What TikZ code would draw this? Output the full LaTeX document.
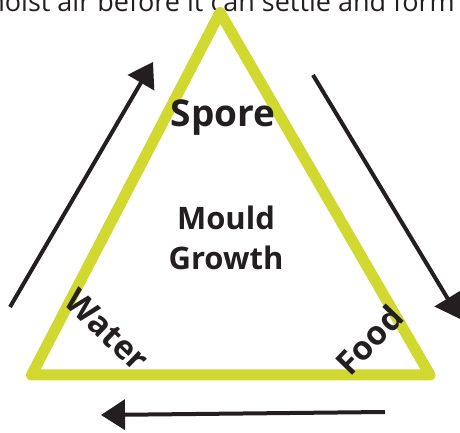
\documentclass[tikz,border=0pt]{standalone}
\usepackage{fontspec}
\setmainfont{Open Sans}
\usepackage{xcolor}
\usetikzlibrary{arrows.meta}

\definecolor{lime}{HTML}{D1D82F}
\definecolor{ink}{HTML}{231F20}

\begin{document}
\begin{tikzpicture}[x=1pt, y=1pt,
        side/.style={draw=lime, line width=11pt, line join=round},
        flow/.style={draw=ink, line width=4pt, -{Triangle[length=24pt, width=30pt]}},
        label/.style={text=ink, font=\bfseries, inner sep=0pt}]
        \useasboundingbox (0,0) rectangle (460,433);

        % caption cut off at the top
        \node[anchor=base east, inner sep=0pt, text=ink, font=\fontsize{27}{32}\selectfont] (caption) at (455,421) {moist air before it can settle and form};

        % triangle
        \coordinate (top) at (220,420.5);
        \coordinate (left) at (31.5,58);
        \coordinate (right) at (430,58);
        \draw[side] (top) -- (right) -- (left) -- cycle;

        \node[label, anchor=base, font=\bfseries\fontsize{37}{42}\selectfont] (spore) at (223,306) {Spore};
        \node[label, anchor=base, align=center, font=\bfseries\fontsize{31}{40}\selectfont] (mould) at (226,163) {Mould\\Growth};
        \node[label, rotate=-44, font=\bfseries\fontsize{33}{36}\selectfont] (water) at (107,103) {Water};
        \node[label, rotate=46, font=\bfseries\fontsize{33}{36}\selectfont] (food) at (369,93) {Food};

        % arrows round the triangle
        \coordinate (a1) at (10,126);
        \coordinate (a2) at (153,371);
        \coordinate (b1) at (313,358);
        \coordinate (b2) at (460,114);
        \coordinate (c1) at (385,21);
        \coordinate (c2) at (101,18);
        \draw[flow] (a1) -- (a2);
        \draw[flow] (b1) -- (b2);
        \draw[flow] (c1) -- (c2);
    \end{tikzpicture}
\end{document}
